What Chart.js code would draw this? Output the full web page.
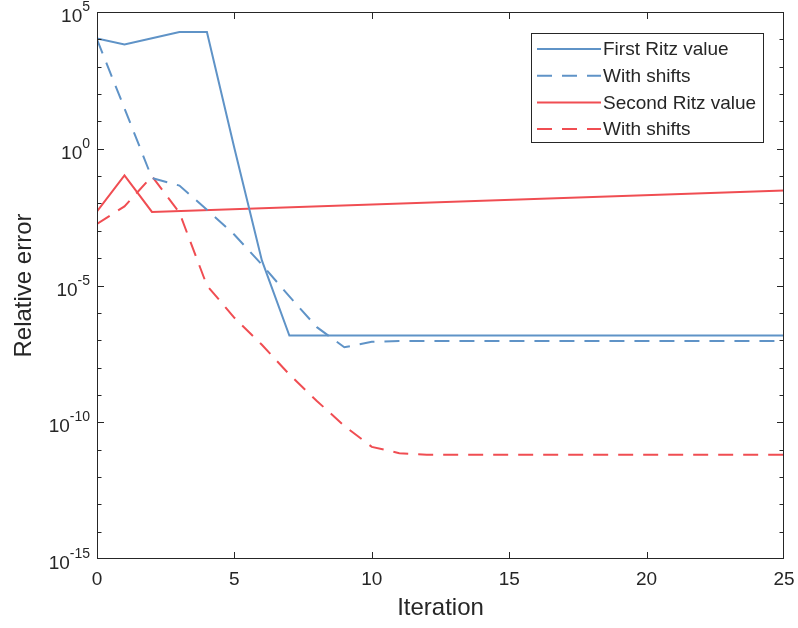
<!DOCTYPE html>
<html>
<head>
<meta charset="utf-8">
<script src="https://cdn.jsdelivr.net/npm/chart.js@4.4.1/dist/chart.umd.min.js"></script>
<style>
  html, body { margin: 0; padding: 0; background: #fff; }
  #chart { display: block; }
</style>
</head>
<body>
<canvas id="chart" width="798" height="628"></canvas>
<script>
// values (log scale, so estimates)
const iterations = [0, 1, 2, 3, 4, 5, 6, 7, 8, 9, 10, 11, 12, 13, 14, 15, 16, 17, 18, 19, 20, 21, 22, 23, 24, 25];
const firstRitz = [1.07e4, 6.5e3, 1.1e4, 1.86e4, 1.86e4, 1.05, 8.3e-5, 1.48e-7, 1.48e-7, 1.48e-7, 1.48e-7, 1.48e-7, 1.48e-7,
    1.48e-7, 1.48e-7, 1.48e-7, 1.48e-7, 1.48e-7, 1.48e-7, 1.48e-7, 1.48e-7, 1.48e-7, 1.48e-7, 1.48e-7, 1.48e-7, 1.48e-7];
const firstShifted = [1.0e4, 30, 0.085, 0.045, 5.9e-3, 7.2e-4, 5.8e-5, 4.0e-6, 3.0e-7, 5.5e-8, 8.7e-8, 9.3e-8, 9.3e-8,
    9.3e-8, 9.3e-8, 9.3e-8, 9.3e-8, 9.3e-8, 9.3e-8, 9.3e-8, 9.3e-8, 9.3e-8, 9.3e-8, 9.3e-8, 9.3e-8, 9.3e-8];
const secondIterations = [0, 1, 2, 25];
const secondRitz = [5.1e-3, 0.107, 4.9e-3, 3.0e-2];
const secondShifted = [1.8e-3, 7.8e-3, 0.098, 4.6e-3, 1.0e-5, 6.6e-7, 6.8e-8, 5.6e-9, 6.0e-10, 7.4e-11, 1.26e-11, 7.4e-12, 6.5e-12,
    6.5e-12, 6.5e-12, 6.5e-12, 6.5e-12, 6.5e-12, 6.5e-12, 6.5e-12, 6.5e-12, 6.5e-12, 6.5e-12, 6.5e-12, 6.5e-12, 6.5e-12];

const seriesLabels = ['First Ritz value', 'With shifts', 'Second Ritz value', 'With shifts'];
const xTicks = [0, 5, 10, 15, 20, 25];
const yExponents = [5, 0, -5, -10, -15];

const INK = '#262626';
const BLUE = '#5f93c7';
const RED = '#f04d52';
const FONT = "'Liberation Sans', Arial, sans-serif";
const DASH = [15, 10];

const pts = (xs, ys) => xs.map((x, i) => ({ x: x, y: ys[i] }));

// box, inward ticks, power-of-ten labels and the legend
const matlabAxes = {
    id: 'matlabAxes',
    afterDatasetsDraw(chart) {
        const { ctx, chartArea: a, scales: { x, y } } = chart;
        ctx.save();
        ctx.strokeStyle = INK;
        ctx.lineWidth = 1;
        ctx.beginPath();
        xTicks.slice(1, -1).forEach(v => {
            const px = Math.round(x.getPixelForValue(v)) + 0.5;
            ctx.moveTo(px, a.bottom); ctx.lineTo(px, a.bottom - 7);
            ctx.moveTo(px, a.top); ctx.lineTo(px, a.top + 7);
        });
        for (let e = -14; e <= 4; e++) {
            const len = e % 5 === 0 ? 7 : 4.5;
            const py = Math.round(y.getPixelForValue(Math.pow(10, e))) + 0.5;
            ctx.moveTo(a.left, py); ctx.lineTo(a.left + len, py);
            ctx.moveTo(a.right, py); ctx.lineTo(a.right - len, py);
        }
        ctx.stroke();
        ctx.strokeRect(a.left + 0.5, a.top + 0.5, a.right - a.left - 1, a.bottom - a.top - 1);

        // y tick labels as 10 with raised exponent
        ctx.fillStyle = INK;
        ctx.textBaseline = 'alphabetic';
        ctx.textAlign = 'left';
        yExponents.forEach(e => {
            const py = y.getPixelForValue(Math.pow(10, e));
            const exp = e < 0 ? '-' + (-e) : String(e);
            ctx.font = '14px ' + FONT;
            const ew = ctx.measureText(exp).width;
            ctx.font = '19px ' + FONT;
            const bw = ctx.measureText('10').width;
            const right = a.left - 7;
            ctx.fillText('10', right - ew - bw, py + 10);
            ctx.font = '14px ' + FONT;
            ctx.fillText(exp, right - ew, py - 1);
        });

        // legend
        const box = { left: 531, top: 33, right: 763, bottom: 142 };
        ctx.fillStyle = '#fff';
        ctx.fillRect(box.left, box.top, box.right - box.left, box.bottom - box.top);
        ctx.strokeStyle = INK;
        ctx.strokeRect(box.left + 0.5, box.top + 0.5, box.right - box.left, box.bottom - box.top);
        ctx.font = '19px ' + FONT;
        ctx.textBaseline = 'middle';
        chart.data.datasets.forEach((ds, i) => {
            const ly = 49 + i * 26.7;
            ctx.save();
            ctx.strokeStyle = ds.borderColor;
            ctx.lineWidth = 2;
            ctx.setLineDash(ds.borderDash || []);
            ctx.beginPath();
            ctx.moveTo(537, ly); ctx.lineTo(601, ly);
            ctx.stroke();
            ctx.restore();
            ctx.fillStyle = INK;
            ctx.fillText(ds.label, 603, ly + 1);
        });
        ctx.restore();
    }
};

new Chart(document.getElementById('chart'), {
    type: 'line',
    data: {
        datasets: [
            { label: seriesLabels[0], data: pts(iterations, firstRitz), borderColor: BLUE },
            { label: seriesLabels[1], data: pts(iterations, firstShifted), borderColor: BLUE, borderDash: DASH },
            { label: seriesLabels[2], data: pts(secondIterations, secondRitz), borderColor: RED },
            { label: seriesLabels[3], data: pts(iterations, secondShifted), borderColor: RED, borderDash: DASH }
        ]
    },
    options: {
        responsive: false,
        animation: false,
        devicePixelRatio: 1,
        layout: { padding: { top: 12, right: 14, left: 0, bottom: 0 } },
        elements: {
            point: { radius: 0 },
            line: { borderWidth: 2, tension: 0, fill: false }
        },
        plugins: { legend: { display: false }, tooltip: { enabled: false } },
        scales: {
            x: {
                type: 'linear', min: 0, max: 25,
                afterFit: s => { s.height = 69; s.paddingLeft = 0; s.paddingRight = 0; },
                grid: { display: false, drawTicks: false },
                border: { display: false },
                ticks: { stepSize: 5, padding: 9, color: INK, font: { family: FONT, size: 19 } },
                title: { display: true, text: 'Iteration', color: INK, font: { family: FONT, size: 24 }, padding: { top: 0, bottom: 5 } }
            },
            y: {
                type: 'logarithmic', min: 1e-15, max: 1e5,
                afterFit: s => { s.width = 97; },
                grid: { display: false, drawTicks: false },
                border: { display: false },
                ticks: { display: false },
                title: { display: true, text: 'Relative error', color: INK, font: { family: FONT, size: 24 }, padding: { top: 10, bottom: 0 } }
            }
        }
    },
    plugins: [matlabAxes]
});
</script>
</body>
</html>
